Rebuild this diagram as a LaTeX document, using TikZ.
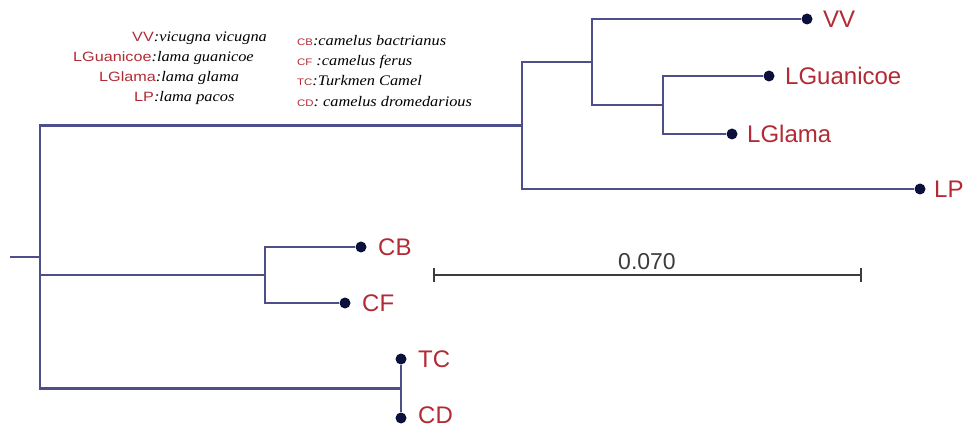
\documentclass[tikz,border=0pt]{standalone}
\usepackage{fontspec}
\setmainfont{Liberation Serif}
\newfontfamily\labfont{Liberation Sans}
\newfontfamily\legsans[FakeStretch=1.2]{Liberation Sans}
\newfontfamily\legserif[FakeStretch=1.12]{Liberation Serif}
\usetikzlibrary{arrows.meta}
\definecolor{branchc}{RGB}{78,78,138}
\definecolor{dotc}{RGB}{12,16,60}
\definecolor{labred}{RGB}{178,42,52}
\definecolor{barc}{RGB}{60,60,60}
\newcommand\myab[1]{{\legsans\upshape\fontsize{13.5}{13.5}\selectfont\color{labred}#1}}
\newcommand\mysab[1]{{\legsans\upshape\fontsize{9.5}{10}\selectfont\color{labred}#1}}
\begin{document}
\begin{tikzpicture}[x=1pt,y=-1pt,
  br/.style={draw=branchc, line width=2.4pt},
  leaf/.style={circle, fill=dotc, inner sep=0pt, minimum size=11pt},
  lab/.style={anchor=west, inner sep=0pt, text=labred, font=\labfont\fontsize{24}{24}\selectfont},
  leg/.style={anchor=base west, inner sep=0pt, font=\legserif\fontsize{14.6}{16}\selectfont\itshape},
  scalebar/.style={draw=barc, line width=2pt, {Bar[width=13pt,line width=2pt]}-{Bar[width=13pt,line width=2pt]}}]
\useasboundingbox (0,0) rectangle (965,427);
% internal nodes
\coordinate (r0) at (10,257);
\coordinate (r) at (40,257);
\coordinate (A) at (522,125.5);
\coordinate (B) at (592,62);
\coordinate (C) at (663,105);
\coordinate (D) at (265,275);
\coordinate (E) at (401,388.5);
% leaves
\node[leaf] (vv) at (807,19) {};
\node[leaf] (lgu) at (769,76) {};
\node[leaf] (lgl) at (732,134) {};
\node[leaf] (lp) at (920,189) {};
\node[leaf] (cb) at (361,247) {};
\node[leaf] (cf) at (345,303) {};
\node[leaf] (tc) at (401,359) {};
\node[leaf] (cd) at (401,418) {};
% branches
\draw[br] (r0) -- (r);
\draw[br] (r) |- (A);
\draw[br] (r) |- (D);
\draw[br] (r) |- (E);
\draw[br] (A) |- (B);
\draw[br] (A) |- (lp);
\draw[br] (B) |- (vv);
\draw[br] (B) |- (C);
\draw[br] (C) |- (lgu);
\draw[br] (C) |- (lgl);
\draw[br] (D) |- (cb);
\draw[br] (D) |- (cf);
\draw[br] (E) -- (tc);
\draw[br] (E) -- (cd);
% leaf labels
\node[lab] (vvl) at ([xshift=16]vv.center) {VV};
\node[lab] (lgul) at ([xshift=16]lgu.center) {LGuanicoe};
\node[lab] (lgll) at ([xshift=15]lgl.center) {LGlama};
\node[lab] (lpl) at ([xshift=14]lp.center) {LP};
\node[lab] (cbl) at ([xshift=17]cb.center) {CB};
\node[lab] (cfl) at ([xshift=17]cf.center) {CF};
\node[lab] (tcl) at ([xshift=17]tc.center) {TC};
\node[lab] (cdl) at ([xshift=17,yshift=3]cd.center) {CD};
% scale bar
\coordinate (s1) at (433,275);
\coordinate (s2) at (862,275);
\draw[scalebar] (s1) -- (s2);
\node[inner sep=0pt, text=barc, font=\labfont\fontsize{23}{23}\selectfont] (sl) at (647,262) {0.070};
% legend
\node[leg] (g1) at (132,42) {\myab{VV}:vicugna vicugna};
\node[leg] (g2) at (73,62) {\myab{LGuanicoe}:lama guanicoe};
\node[leg] (g3) at (99,82) {\myab{LGlama}:lama glama};
\node[leg] (g4) at (134,102) {\myab{LP}:lama pacos};
\node[leg] (g5) at (297,46) {\mysab{CB}:camelus bactrianus};
\node[leg] (g6) at (297,66) {\mysab{CF} :camelus ferus};
\node[leg] (g7) at (297,86) {\mysab{TC}:Turkmen Camel};
\node[leg] (g8) at (297,107) {\mysab{CD}: camelus dromedarious};
\end{tikzpicture}
\end{document}
